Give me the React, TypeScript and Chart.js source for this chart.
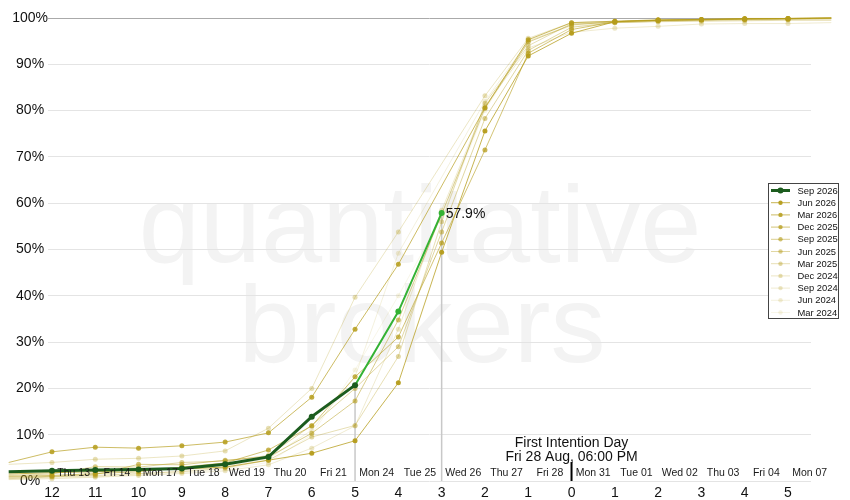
import React, { useEffect, useRef } from "react";
import { Chart, registerables } from "chart.js";

Chart.register(...registerables);

// ---- data ----
const dayOffsets = [-13, -12, -11, -10, -9, -8, -7, -6, -5, -4, -3, -2, -1, 0, 1, 2, 3, 4, 5, 6];
const xTickValues = [-12, -11, -10, -9, -8, -7, -6, -5, -4, -3, -2, -1, 0, 1, 2, 3, 4, 5];
const sessionLabels = ["Thu 13", "Fri 14", "Mon 17", "Tue 18", "Wed 19", "Thu 20", "Fri 21", "Mon 24", "Tue 25", "Wed 26", "Thu 27", "Fri 28", "Mon 31", "Tue 01", "Wed 02", "Thu 03", "Fri 04", "Mon 07"];
const sessionPositions = [-11.5, -10.5, -9.5, -8.5, -7.5, -6.5, -5.5, -4.5, -3.5, -2.5, -1.5, -0.5, 0.5, 1.5, 2.5, 3.5, 4.5, 5.5];
const seriesNames = ["Sep 2026", "Jun 2026", "Mar 2026", "Dec 2025", "Sep 2025", "Jun 2025", "Mar 2025", "Dec 2024", "Sep 2024", "Jun 2024", "Mar 2024"];

const sep2026 = [2.0, 2.2, 2.4, 2.5, 2.7, 3.6, 5.2, 13.9, 20.7, 36.6, 57.9, null, null, null, null, null, null, null, null, null];
const jun2026 = [1.5, 1.8, 2.0, 2.3, 2.6, 3.0, 4.5, 6.0, 8.7, 21.2, 49.4, 75.6, 91.8, 96.7, 99.2, 99.5, 99.7, 99.8, 99.9, 100];
const mar2026 = [4.0, 6.3, 7.3, 7.1, 7.6, 8.4, 10.4, 18.1, 32.8, 46.8, null, 80.6, 95.3, 99.0, 99.3, 99.6, 99.7, 99.9, 99.9, 100];
const dec2025 = [1.0, 1.2, 1.6, 2.0, 3.0, 3.9, 6.7, 11.9, 22.5, 31.1, 51.4, 71.5, 92.4, 97.5, 99.2, 99.5, 99.6, 99.8, 99.9, 100];
const sep2025 = [0.8, 1.0, 1.4, 3.6, 3.5, 4.5, 5.2, 10.3, 17.3, 34.8, null, 80.5, 94.8, 98.5, 99.2, 99.5, 99.6, 99.8, 99.8, 100];
const jun2025 = [1.2, 1.5, 3.1, 3.0, 4.0, 4.3, 5.5, 12.0, 20.0, 29.0, 53.8, 78.3, 93.0, 98.0, 99.0, 99.3, 99.5, 99.6, 99.7, 99.8];
const mar2025 = [0.5, 0.9, 1.2, 1.6, 2.0, 2.8, 4.5, 9.5, 12.0, 26.9, 56.0, 81.6, 94.0, 98.8, 99.0, 99.2, 99.3, 99.4, 99.5, 99.5];
const dec2024 = [3.6, 4.0, 4.7, 4.9, 5.4, 6.5, 11.4, 20.0, 39.7, 53.8, null, 83.2, 95.6, 99.0, 99.3, 99.5, 99.6, 99.7, 99.8, 99.9];
const sep2024 = [0.3, 0.5, 0.8, 1.2, 1.6, 2.2, 3.5, 7.1, 11.9, 32.8, 58.5, 81.0, 93.5, 96.9, 97.8, 98.2, 98.7, 98.8, 98.8, 99.0];
const jun2024 = [0.6, 0.8, 1.0, 1.5, 2.2, 3.2, 4.8, 11.0, 22.5, 49.2, null, 82.0, 95.0, 98.6, 99.3, 99.6, 99.7, 99.8, 99.9, 100];
const mar2024 = [0.4, 0.6, 0.9, 1.3, 1.8, 2.6, 4.0, 10.0, 24.0, 40.0, 57.0, 80.0, 95.2, 98.2, 99.1, 99.4, 99.6, 99.7, 99.8, 99.9];

const historicalSeries = [jun2026, mar2026, dec2025, sep2025, jun2025, mar2025, dec2024, sep2024, jun2024, mar2024];
const historicalAlpha = [0.95, 0.85, 0.75, 0.62, 0.5, 0.4, 0.32, 0.25, 0.18, 0.12];
const dropLineDays = [-5, -3];
const brightFromDay = -5;
const firstIntentionLines = ["First Intention Day", "Fri 28 Aug, 06:00 PM"];
const watermarkLines = ["quantitative", "brokers"];

// ---- style ----
const FONT = "'Liberation Sans', Arial, sans-serif";
const DARK_GREEN = "rgb(28, 92, 30)";
const BRIGHT_GREEN = "rgb(52, 178, 52)";
const olive = (a: number) => `rgba(181, 156, 26, ${a})`;
const edgeDays = [dayOffsets[0], dayOffsets[dayOffsets.length - 1]];

const toPoints = (arr: (number | null)[]) =>
  dayOffsets.map((x, i) => ({ x, y: arr[i] })).filter((p) => p.y !== null);

const decorPlugin = {
  id: "decor",
  beforeDraw(chart: any) {
    const ctx = chart.ctx;
    ctx.save();
    ctx.fillStyle = "#f3f3f3";
    ctx.textAlign = "center";
    ctx.textBaseline = "alphabetic";
    ctx.font = `110px ${FONT}`;
    ctx.fillText(watermarkLines[0], 420, 262);
    ctx.fillText(watermarkLines[1], 422, 362);
    ctx.restore();
  },
  beforeDatasetsDraw(chart: any) {
    const ctx = chart.ctx;
    const xs = chart.scales.x;
    const ys = chart.scales.y;
    const bottom = chart.chartArea.bottom;
    ctx.save();
    ctx.strokeStyle = "#c8c8c8";
    ctx.lineWidth = 1.5;
    dropLineDays.forEach((d) => {
      const v = sep2026[dayOffsets.indexOf(d)];
      if (v == null) return;
      const px = xs.getPixelForValue(d);
      ctx.beginPath();
      ctx.moveTo(px, ys.getPixelForValue(v));
      ctx.lineTo(px, bottom);
      ctx.stroke();
    });
    ctx.restore();
  },
  afterDatasetsDraw(chart: any) {
    const ctx = chart.ctx;
    const xs = chart.scales.x;
    const ys = chart.scales.y;
    const bottom = chart.chartArea.bottom;
    ctx.save();
    // session labels
    ctx.fillStyle = "#1a1a1a";
    ctx.font = `10.5px ${FONT}`;
    ctx.textAlign = "center";
    ctx.textBaseline = "middle";
    sessionLabels.forEach((t, i) => {
      ctx.fillText(t, xs.getPixelForValue(sessionPositions[i]), bottom - 8);
    });
    // first intention marker
    const x0 = xs.getPixelForValue(0);
    ctx.strokeStyle = "#000";
    ctx.lineWidth = 2;
    ctx.beginPath();
    ctx.moveTo(x0, bottom - 19);
    ctx.lineTo(x0, bottom);
    ctx.stroke();
    ctx.font = `14px ${FONT}`;
    ctx.fillStyle = "#111";
    ctx.fillText(firstIntentionLines[0], x0, bottom - 38);
    ctx.fillText(firstIntentionLines[1], x0, bottom - 24);
    // last value label
    let lastIdx = -1;
    sep2026.forEach((v, i) => { if (v != null) lastIdx = i; });
    const lv = sep2026[lastIdx] as number;
    ctx.textAlign = "left";
    ctx.fillText(lv.toFixed(1) + "%", xs.getPixelForValue(dayOffsets[lastIdx]) + 4, ys.getPixelForValue(lv) + 1);
    // legend
    const lx = 768, ly = 183, lw = 70, lh = 135;
    ctx.fillStyle = "#fff";
    ctx.fillRect(lx, ly, lw, lh);
    ctx.strokeStyle = "#444";
    ctx.lineWidth = 1;
    ctx.strokeRect(lx + 0.5, ly + 0.5, lw, lh);
    ctx.font = `9.4px ${FONT}`;
    chart.data.datasets.forEach((ds: any, i: number) => {
      const cy = ly + 7.5 + i * 12.2;
      const col = i === 0 ? DARK_GREEN : olive(historicalAlpha[i - 1]);
      ctx.strokeStyle = i === 0 ? DARK_GREEN : olive(historicalAlpha[i - 1] * 0.8);
      ctx.lineWidth = i === 0 ? 3 : 1;
      ctx.beginPath();
      ctx.moveTo(lx + 3, cy);
      ctx.lineTo(lx + 22, cy);
      ctx.stroke();
      ctx.fillStyle = col;
      ctx.beginPath();
      ctx.arc(lx + 12.5, cy, i === 0 ? 3 : 2.2, 0, Math.PI * 2);
      ctx.fill();
      ctx.fillStyle = "#111";
      ctx.textAlign = "left";
      ctx.textBaseline = "middle";
      ctx.fillText(ds.label, lx + 29.5, cy + 0.5);
    });
    ctx.restore();
  },
};

export default function App() {
  const ref = useRef<HTMLCanvasElement | null>(null);
  useEffect(() => {
    if (!ref.current) return;
    const isEdge = (x: number) => edgeDays.includes(x);
    const datasets: any[] = [
      {
        label: seriesNames[0],
        data: toPoints(sep2026),
        borderColor: DARK_GREEN,
        borderWidth: 3,
        pointRadius: (c: any) => (isEdge(c.raw?.x) ? 0 : 3),
        pointBackgroundColor: (c: any) => (c.raw?.x > brightFromDay ? BRIGHT_GREEN : DARK_GREEN),
        pointBorderWidth: 0,
        segment: {
          borderColor: (c: any) => (c.p0.parsed.x >= brightFromDay ? BRIGHT_GREEN : DARK_GREEN),
          borderWidth: (c: any) => (c.p0.parsed.x >= brightFromDay ? 2 : 3),
        },
        clip: false,
        tension: 0,
      },
      ...historicalSeries.map((arr, i) => ({
        label: seriesNames[i + 1],
        data: toPoints(arr),
        borderColor: olive(historicalAlpha[i] * 0.8),
        borderWidth: 1,
        pointRadius: (c: any) => (isEdge(c.raw?.x) ? 0 : 2.5),
        pointBackgroundColor: olive(historicalAlpha[i]),
        pointBorderWidth: 0,
        spanGaps: true,
        clip: false,
        tension: 0,
      })),
    ];
    const chart = new Chart(ref.current, {
      type: "line",
      data: { datasets },
      options: {
        animation: false,
        responsive: false,
        layout: { padding: { top: 18, right: 39, left: 0, bottom: 0 } },
        plugins: { legend: { display: false }, tooltip: { enabled: false } },
        scales: {
          x: {
            type: "linear",
            min: -12.092,
            max: 5.531,
            grid: { display: false, drawTicks: false },
            border: { display: false },
            afterBuildTicks: (s: any) => { s.ticks = xTickValues.map((v) => ({ value: v })); },
            afterFit: (s: any) => { s.height = 19; },
            ticks: {
              padding: 5,
              color: "#111",
              font: { family: FONT, size: 14, lineHeight: 1.0 },
              autoSkip: false,
              maxRotation: 0,
              callback: (v: any) => String(Math.abs(Number(v))),
            },
          },
          y: {
            min: 0,
            max: 100,
            afterFit: (s: any) => { s.width = 48; },
            grid: {
              drawTicks: false,
              color: (c: any) => (c.tick && c.tick.value === 100 ? "#aaaaaa" : "#e4e4e4"),
              lineWidth: 1,
            },
            border: { display: false },
            ticks: {
              stepSize: 10,
              padding: 0,
              crossAlign: "center",
              color: "#111",
              font: { family: FONT, size: 14 },
              callback: (v: any) => v + "%",
            },
          },
        },
      },
      plugins: [decorPlugin],
    });
    return () => chart.destroy();
  }, []);
  return (
    <div style={{ position: "absolute", left: 0, top: 0, width: 850, height: 500, background: "#fff" }}>
      <canvas ref={ref} width={850} height={500} style={{ display: "block" }} />
    </div>
  );
}
